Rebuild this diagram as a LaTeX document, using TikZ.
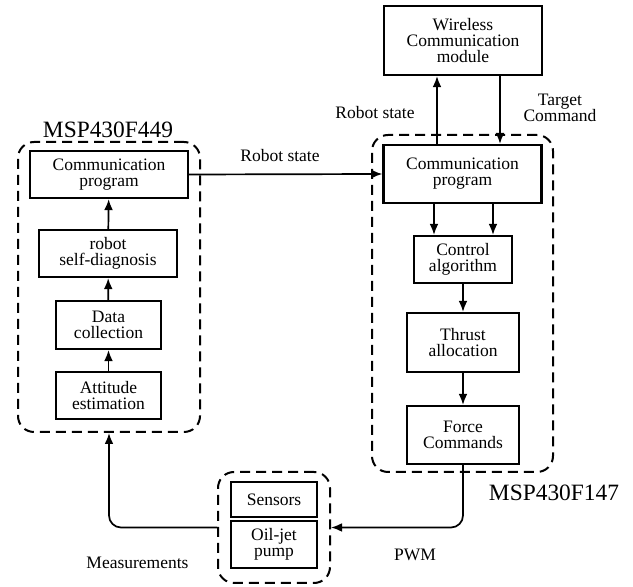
\documentclass[tikz,border=0pt]{standalone}
\usepackage{fontspec}
\setmainfont{Liberation Serif}
\usetikzlibrary{arrows.meta,positioning}

\begin{document}
\begin{tikzpicture}[x=0.5pt,y=-0.5pt,
  blk/.style={draw,line width=1.1pt,align=center,inner sep=0pt,
    font={\fontsize{8.75pt}{8.1pt}\selectfont}},
  grp/.style={draw,line width=1pt,dash pattern=on 5pt off 3pt,rounded corners=8pt,inner sep=0pt},
  lbl/.style={align=center,font={\fontsize{8.75pt}{8.1pt}\selectfont}},
  ttl/.style={font={\fontsize{11.7pt}{12pt}\selectfont}},
  arr/.style={line width=0.85pt,-{Latex[length=5.5pt,width=4.4pt]}}]
  \useasboundingbox (0,0) rectangle (633,587);

  % MSP430F449 side
  \node[grp,minimum width=91pt,minimum height=145pt] (lgrp) at (109,287) {};
  \node[ttl] (lttl) at (108,130) {MSP430F449};
  \node[blk,minimum width=79pt,minimum height=23.5pt] (lcomm) at (109,174.5) {Communication\\program};
  \node[blk,minimum width=69pt,minimum height=23.5pt] (diag) at (108,253.5) {robot\\self-diagnosis};
  \node[blk,minimum width=52.5pt,minimum height=24pt] (data) at (108.5,325) {Data\\collection};
  \node[blk,minimum width=52.5pt,minimum height=23.5pt] (att) at (108.5,395.5) {Attitude\\estimation};
  \draw[arr] (att) -- (data);
  \draw[arr] (data) -- (diag);
  \draw[arr] (diag) -- (lcomm);

  % MSP430F147 side
  \node[grp,minimum width=90.5pt,minimum height=168.5pt] (rgrp) at (462.5,303.5) {};
  \node[ttl] (rttl) at (554,493) {MSP430F147};
  \node[blk,minimum width=79pt,minimum height=34.5pt] (wl) at (463,40.5) {Wireless\\Communication\\module};
  \node[blk,minimum width=79pt,minimum height=29pt] (rcomm) at (462.5,174) {Communication\\program};
  \node[blk,minimum width=49pt,minimum height=23.5pt] (ctrl) at (463,259.5) {Control\\algorithm};
  \node[blk,minimum width=56pt,minimum height=29.5pt] (thr) at (463,342.5) {Thrust\\allocation};
  \node[blk,minimum width=56pt,minimum height=29pt] (frc) at (463,435) {Force\\Commands};
  \draw[arr] ([xshift=-12.75pt]rcomm.north) -- ([xshift=-13pt]wl.south);
  \draw[arr] ([xshift=18.5pt]wl.south) -- ([xshift=18.75pt]rcomm.north);
  \draw[arr] ([xshift=-14.25pt]rcomm.south) -- ([xshift=-14.5pt]ctrl.north);
  \draw[arr] ([xshift=15.25pt]rcomm.south) -- ([xshift=15pt]ctrl.north);
  \draw[arr] (ctrl) -- (thr);
  \draw[arr] (thr) -- (frc);
  \node[lbl] (rs2) at (375,113) {Robot state};
  \node[lbl] (tc) at (560,108) {Target\\Command};

  % Robot state link
  \draw[arr] (lcomm.east) -- (rcomm.west);
  \node[lbl] (rs1) at (280,156) {Robot state};

  % Sensors and pump
  \node[grp,minimum width=56pt,minimum height=55.5pt] (pgrp) at (274,527.5) {};
  \node[blk,minimum width=43pt,minimum height=17.5pt] (sens) at (274,499.5) {Sensors};
  \node[blk,minimum width=43pt,minimum height=23.5pt] (pump) at (274,544.5) {Oil-jet\\pump};
  \draw[arr,rounded corners=6pt] (frc.south) |- (pgrp.east);
  \draw[arr,rounded corners=6pt] (pgrp.west) -| (lgrp.south);
  \node[lbl] (pwm) at (415,555) {PWM};
  \node[lbl] (meas) at (137.5,563) {Measurements};
\end{tikzpicture}
\end{document}
